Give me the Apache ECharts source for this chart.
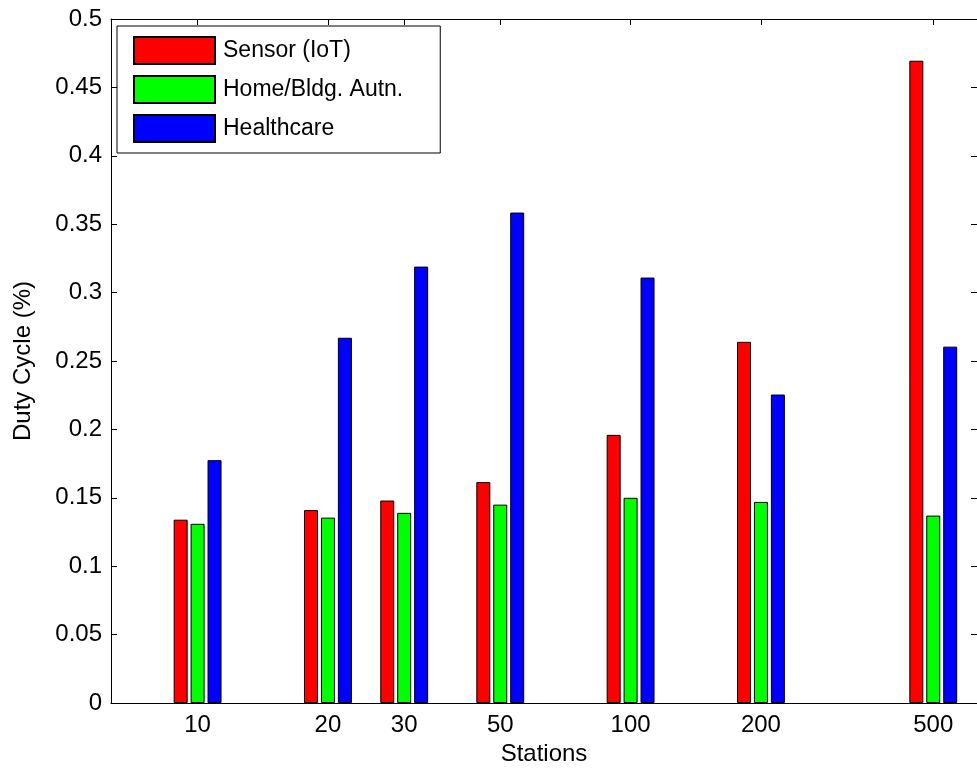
<!DOCTYPE html>
<html>
<head>
<meta charset="utf-8">
<title>Duty Cycle vs Stations</title>
<script src="https://cdn.jsdelivr.net/npm/echarts@6/dist/echarts.min.js"></script>
<style>
  html, body { margin: 0; padding: 0; background: #fff; }
  #chart { width: 977px; height: 776px; }
</style>
</head>
<body>
<div id="chart"></div>
<script>
// Number of stations per group (x positions on a log10 scale)
const stations = [10, 20, 30, 50, 100, 200, 500];

// Duty cycle (%) per application profile
const sensorIoT  = [0.134, 0.141, 0.148, 0.1615, 0.196, 0.264, 0.4695];
const homeBldg   = [0.131, 0.1355, 0.139, 0.145, 0.150, 0.147, 0.137];
const healthcare = [0.1775, 0.267, 0.319, 0.3585, 0.311, 0.2255, 0.2605];

const seriesNames  = ['Sensor (IoT)', 'Home/Bldg. Autn.', 'Healthcare'];
const seriesColors = ['#ff0000', '#00ff00', '#0000ff'];

const yTicks = [0, 0.05, 0.1, 0.15, 0.2, 0.25, 0.3, 0.35, 0.4, 0.45, 0.5];

const FONT = 'Liberation Sans, Arial, Helvetica, sans-serif';
const logX = stations.map(s => Math.log10(s));
const stationLabel = v => String(Math.round(Math.pow(10, v)));

function pairs(values) {
  return values.map((v, i) => [logX[i], v]);
}

const chart = echarts.init(document.getElementById('chart'), null, { renderer: 'canvas' });

const tickStyle = { show: true, inside: true, length: 6, lineStyle: { color: '#000', width: 1 } };

const option = {
  backgroundColor: '#ffffff',
  animation: false,
  textStyle: { fontFamily: FONT },
  grid: { left: 111, top: 19, width: 869, height: 684, containLabel: false },
  legend: {
    orient: 'vertical',
    left: 117,
    top: 26,
    padding: [10, 37, 10, 16],
    itemWidth: 81,
    itemHeight: 27,
    itemGap: 10,
    icon: 'rect',
    backgroundColor: '#ffffff',
    borderColor: '#000',
    borderWidth: 1,
    borderRadius: 0,
    data: seriesNames,
    textStyle: { fontFamily: FONT, fontSize: 23, color: '#000', padding: [0, 0, 0, 3] }
  },
  xAxis: [
    {
      type: 'value',
      min: 0.8,
      max: 2.8,
      name: 'Stations',
      nameLocation: 'middle',
      nameGap: 37,
      nameTextStyle: { fontFamily: FONT, fontSize: 24, color: '#000' },
      axisLine: { show: true, onZero: false, lineStyle: { color: '#000', width: 1 } },
      axisTick: Object.assign({ customValues: logX }, tickStyle),
      axisLabel: {
        customValues: logX,
        formatter: stationLabel,
        margin: 10,
        fontFamily: FONT, fontSize: 24, color: '#000'
      },
      splitLine: { show: false }
    },
    {
      type: 'value',
      position: 'top',
      min: 0.8,
      max: 2.8,
      axisLine: { show: true, onZero: false, lineStyle: { color: '#000', width: 1 } },
      axisTick: Object.assign({ customValues: logX }, tickStyle),
      axisLabel: { show: false, customValues: logX },
      splitLine: { show: false }
    }
  ],
  yAxis: [
    {
      type: 'value',
      min: 0,
      max: 0.5,
      interval: 0.05,
      name: 'Duty Cycle (%)',
      nameLocation: 'middle',
      nameGap: 76,
      nameRotate: 90,
      nameTextStyle: { fontFamily: FONT, fontSize: 24, color: '#000' },
      axisLine: { show: true, lineStyle: { color: '#000', width: 1 } },
      axisTick: tickStyle,
      axisLabel: {
        margin: 9,
        formatter: v => String(yTicks.find(t => Math.abs(t - v) < 1e-9) ?? v),
        fontFamily: FONT, fontSize: 24, color: '#000'
      },
      splitLine: { show: false }
    },
    {
      type: 'value',
      position: 'right',
      min: 0,
      max: 0.5,
      interval: 0.05,
      axisLine: { show: true, lineStyle: { color: '#000', width: 1 } },
      axisTick: tickStyle,
      axisLabel: { show: false },
      splitLine: { show: false }
    }
  ],
  series: [sensorIoT, homeBldg, healthcare].map((vals, k) => ({
    name: seriesNames[k],
    type: 'bar',
    xAxisIndex: 0,
    yAxisIndex: 0,
    barWidth: 14,
    barGap: '21%',
    data: pairs(vals),
    itemStyle: { color: seriesColors[k], borderColor: '#000', borderWidth: 1 },
    emphasis: { disabled: true }
  }))
};

chart.setOption(option);
</script>
</body>
</html>
